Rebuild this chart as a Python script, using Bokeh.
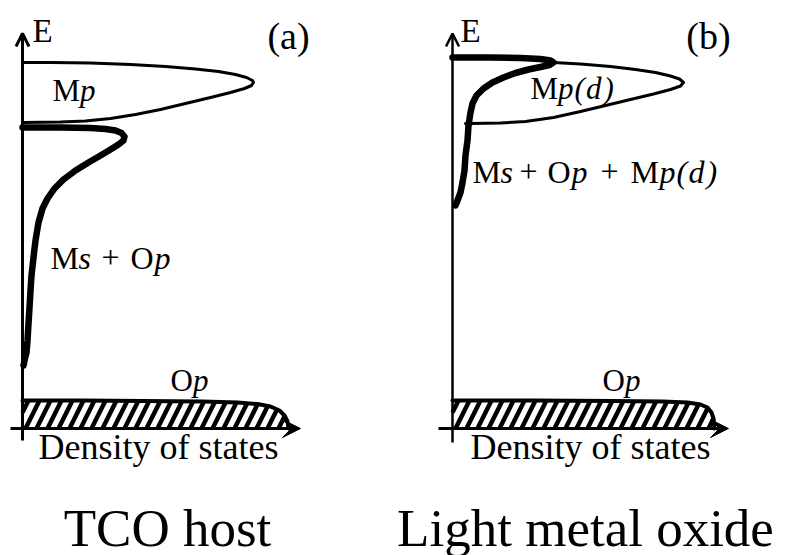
import numpy as np
from bokeh.plotting import figure
from bokeh.models import Range1d, Arrow, VeeHead, OpenHead
from bokeh.layouts import row
from bokeh.core.properties import value
from bokeh.embed import file_html
from bokeh.resources import INLINE

# ---- schematic data (arbitrary units: DOS along x, energy E along y) ----
# Panel (a) TCO host
a_mp_dos = [0, 28, 68, 108, 143, 173, 196, 213, 224, 230, 231, 229, 222, 208, 188, 163, 138, 113, 88, 63, 38, 0]
a_mp_e = [366, 366, 365.5, 364, 362, 359.5, 357, 354, 351, 348, 346, 343, 340, 336, 331, 325, 319, 314, 310, 307.5, 306.5, 306]

a_cb_dos = [0, 38, 68, 83, 93, 99, 102, 101, 96, 88, 78, 66, 53, 41, 32, 25, 20, 16, 13, 11, 9, 8, 7, 6, 5, 4, 2, 1]
a_cb_e = [301, 301, 300.5, 299.5, 298, 295.5, 292, 288, 284, 279, 273, 266, 258, 249, 240, 230, 220, 206, 188, 171, 153, 138, 121, 105, 88, 76, 68, 63]

a_op_dos = [0, 60, 120, 180, 215, 235, 248, 257, 262, 265, 266]
a_op_e = [28, 28, 27.5, 27, 26, 24.5, 22, 18, 13, 7, 0]

# Panel (b) Light metal oxide
b_cb_dos = [0, 38, 68, 88, 98, 101, 97, 88, 76, 63, 51, 40, 31, 24, 20, 18, 16, 15, 13, 12, 10, 8, 5, 3]
b_cb_e = [371, 371, 370.5, 369.5, 368, 366, 363.5, 361.5, 359, 355.5, 351, 346, 340, 333, 325, 316, 303, 288, 273, 258, 246, 236, 228, 223]

b_mp_dos = [101, 128, 158, 183, 203, 218, 227, 231, 228, 218, 201, 178, 153, 128, 101, 73, 48, 18, 13]
b_mp_e = [366, 364.5, 362, 359, 356, 352.5, 349.5, 346, 342.5, 339, 334.5, 329, 323, 317, 311, 307, 305.5, 305, 305]

b_op_dos = [0, 80, 160, 210, 235, 248, 255, 259, 261, 262]
b_op_e = [28, 28, 27.5, 27, 26, 24, 21, 16, 10, 0]

panel_tags = ["(a)", "(b)"]
captions = ["TCO host", "Light metal oxide"]

SERIF = value("Liberation Serif")
H = 555
TXT_DY = 12  # baseline correction for svg text


def base_fig(width, x0):
    p = figure(width=width, height=H,
               x_range=Range1d(x0, x0 + width), y_range=Range1d(428 - H, 428),
               output_backend="svg", toolbar_location=None,
               x_axis_location=None, y_axis_location=None,
               min_border=0, outline_line_color=None,
               background_fill_color="white", border_fill_color="white")
    p.grid.visible = False
    return p


def txt(p, xs, ys, texts, size, style="normal", align="left"):
    p.text(x=xs, y=[v + TXT_DY for v in ys], text=texts, text_font=SERIF, text_font_size=size,
           text_font_style=style, text_align=align, text_baseline="alphabetic",
           text_color="black")


def axes(p, h_from, h_to, v_from, v_to, lw):
    p.add_layout(Arrow(end=VeeHead(size=18, fill_color="black", line_color="black", line_width=1),
                       x_start=h_from, y_start=0, x_end=h_to, y_end=0,
                       line_width=3, line_color="black"))
    p.add_layout(Arrow(end=OpenHead(size=13, line_width=lw, line_color="black"),
                       x_start=0, y_start=v_from, x_end=0, y_end=v_to,
                       line_width=lw, line_color="black"))


def hatched_band(p, dos, e, spacing=11.0, slope=0.5):
    dos = np.asarray(dos, float)
    e = np.asarray(e, float)
    p.patch(list(dos) + [dos[-1], 0], list(e) + [0, 0], fill_color="white", line_color=None)
    x0s, y0s, x1s, y1s = [], [], [], []
    E = np.linspace(0, 40, 801)
    for start in np.arange(-30, dos.max() + spacing, spacing):
        D = start + slope * E
        top = np.interp(D, dos, e, right=-1)
        inside = (E <= top) & (D >= 0)
        idx = np.where(inside)[0]
        if idx.size < 2:
            continue
        x0s.append(D[idx[0]]); y0s.append(E[idx[0]])
        x1s.append(D[idx[-1]]); y1s.append(E[idx[-1]])
    p.segment(x0s, y0s, x1s, y1s, line_color="black", line_width=4.5, line_cap="butt")
    p.line(list(dos), list(e), line_color="black", line_width=4, line_join="round", line_cap="round")


# ---------------- panel (a) ----------------
pa = base_fig(392, -22)
hatched_band(pa, a_op_dos, a_op_e)
axes(pa, -12, 278, -12, 395, 3)
pa.line(a_mp_dos, a_mp_e, line_width=3, line_color="black", line_join="round", line_cap="round")
pa.line(a_cb_dos, a_cb_e, line_width=6.5, line_color="black", line_join="round", line_cap="round")

txt(pa, [10], [386], ["E"], "33px")
txt(pa, [266], [381], [panel_tags[0]], "38px", align="center")
txt(pa, [30], [326], ["M"], "31px")
txt(pa, [57.6], [326], ["p"], "31px", "italic")
txt(pa, [28, 79, 108], [159, 159, 159], ["M", "+", "O"], "32px")
txt(pa, [56, 132], [159, 159], ["s", "p"], "32px", "italic")
txt(pa, [148], [36], ["O"], "31px")
txt(pa, [170.4], [36], ["p"], "31px", "italic")
txt(pa, [16], [-30], ["Density of states"], "36px")
txt(pa, [145], [-111], [captions[0]], "53px", align="center")

# ---------------- panel (b) ----------------
pb = base_fig(393, -60)
hatched_band(pb, b_op_dos, b_op_e)
axes(pb, -14, 276, -14, 395, 2.5)
pb.line(b_mp_dos, b_mp_e, line_width=3, line_color="black", line_join="round", line_cap="round")
pb.line(b_cb_dos, b_cb_e, line_width=6.5, line_color="black", line_join="round", line_cap="round")

txt(pb, [8], [386], ["E"], "33px")
txt(pb, [256], [381], [panel_tags[1]], "38px", align="center")
txt(pb, [78], [328], ["M"], "31px")
txt(pb, [105.6, 122, 133.5, 151], [328] * 4, ["p", "(", "d", ")"], "31px", "italic")
txt(pb, [20, 67, 95, 148, 178], [245] * 5, ["M", "+", "O", "+", "M"], "32px")
txt(pb, [48, 119, 207, 224, 236, 254], [245] * 6,
    ["s", "p", "p", "(", "d", ")"], "32px", "italic")
txt(pb, [150], [36], ["O"], "31px")
txt(pb, [172.4], [36], ["p"], "31px", "italic")
txt(pb, [18], [-30], ["Density of states"], "36px")
txt(pb, [133], [-111], [captions[1]], "53px", align="center")

layout = row(pa, pb)
open("out.html", "w").write(file_html(layout, INLINE))
